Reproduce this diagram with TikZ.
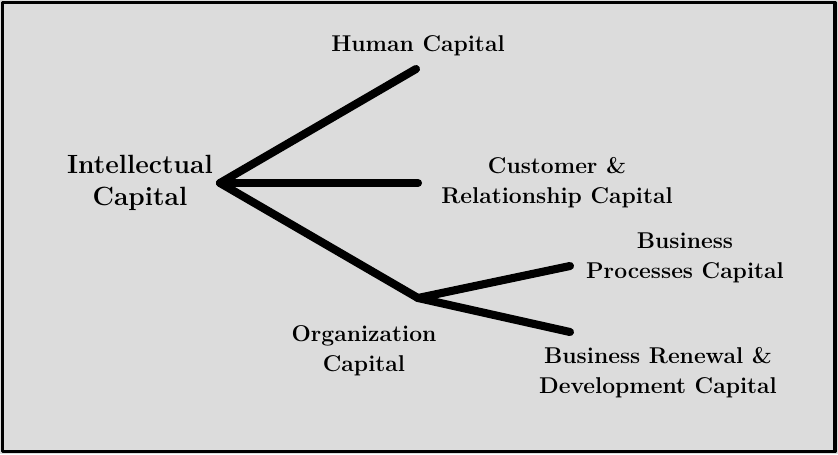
\documentclass[tikz,border=0pt]{standalone}
\definecolor{panel}{RGB}{220,220,220}
\begin{document}
\begin{tikzpicture}[line cap=round, line join=round]
\tikzstyle{every node}=[align=center,font=\fontsize{13}{17}\selectfont\bfseries]
\tikzstyle{big}=[font=\fontsize{15}{18.5}\selectfont\bfseries]
\tikzstyle{branch}=[line width=4.6pt]
\useasboundingbox (0,0) rectangle (16.76,-9.08);
\fill[panel] (0,0) rectangle (16.76,-9.08);
\draw[line width=2.2pt] (0.05,-0.05) rectangle (16.70,-9.03);
% branch points
\coordinate (ic) at (4.40,-3.66);
\coordinate (hc) at (8.32,-1.38);
\coordinate (cc) at (8.36,-3.66);
\coordinate (oc) at (8.36,-5.96);
\coordinate (bp) at (11.40,-5.32);
\coordinate (br) at (11.40,-6.64);
% labels
\node[big] (lic) at (2.80,-3.66) {Intellectual\\Capital};
\node (lhc) at (8.36,-0.92) {Human Capital};
\node (lcc) at (11.14,-3.66) {Customer \&\\Relationship Capital};
\node (lbp) at (13.70,-5.16) {Business\\Processes Capital};
\node (loc) at (7.28,-7.02) {Organization\\Capital};
\node (lbr) at (13.16,-7.46) {Business Renewal \&\\Development Capital};
\draw[branch] (ic) -- (hc);
\draw[branch] (ic) -- (cc);
\draw[branch] (ic) -- (oc);
\draw[branch] (oc) -- (bp);
\draw[branch] (oc) -- (br);
\end{tikzpicture}
\end{document}
